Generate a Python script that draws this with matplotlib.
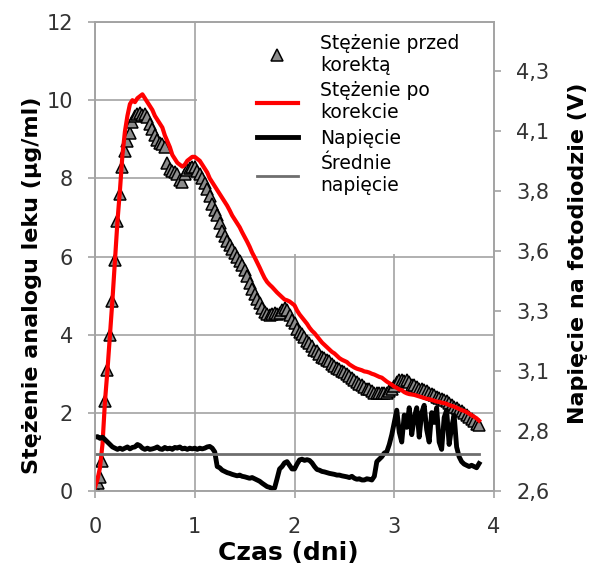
import numpy as np
import matplotlib
matplotlib.use("Agg")
import matplotlib.pyplot as plt
from matplotlib.patches import Rectangle

# odstęp między kolejnymi pomiarami (dni)
krok = 0.025

# stężenie analogu leku przed korektą (µg/ml)
stezenie_przed = [
    0.08, 0.20, 0.35, 0.78, 2.30, 3.10, 4.00, 4.85, 5.90, 6.90,
    7.60, 8.30, 8.70, 8.95, 9.15, 9.45, 9.60, 9.65, 9.68, 9.62,
    9.65, 9.58, 9.40, 9.25, 9.10, 8.98, 8.90, 8.88, 8.80, 8.40,
    8.25, 8.20, 8.15, 8.12, 7.95, 7.90, 8.12, 8.22, 8.26, 8.30,
    8.28, 8.20, 8.10, 8.00, 7.88, 7.72, 7.55, 7.35, 7.20, 7.05,
    6.85, 6.65, 6.52, 6.40, 6.30, 6.20, 6.10, 6.00, 5.88, 5.78,
    5.65, 5.50, 5.32, 5.18, 5.05, 4.92, 4.80, 4.68, 4.58, 4.52,
    4.50, 4.52, 4.55, 4.52, 4.55, 4.62, 4.68, 4.62, 4.50, 4.38,
    4.30, 4.15, 4.08, 4.02, 3.95, 3.85, 3.78, 3.70, 3.62, 3.58,
    3.50, 3.44, 3.40, 3.36, 3.32, 3.25, 3.20, 3.15, 3.12, 3.08,
    3.05, 3.00, 2.95, 2.90, 2.85, 2.80, 2.75, 2.70, 2.65, 2.62,
    2.60, 2.55, 2.52, 2.50, 2.52, 2.50, 2.50, 2.52, 2.55, 2.60,
    2.68, 2.80, 2.85, 2.83, 2.82, 2.85, 2.80, 2.72, 2.70, 2.65,
    2.62, 2.60, 2.58, 2.55, 2.50, 2.48, 2.45, 2.40, 2.38, 2.35,
    2.32, 2.30, 2.25, 2.20, 2.15, 2.12, 2.08, 2.05, 2.00, 1.95,
    1.90, 1.85, 1.78, 1.72, 1.68,
]

# stężenie po korekcie (µg/ml)
stezenie_po = [
    0.10, 0.30, 0.60, 1.20, 2.30, 3.10, 4.00, 4.90, 5.90, 6.90,
    7.70, 8.60, 9.20, 9.60, 9.90, 10.00, 9.95, 10.05, 10.10, 10.15,
    10.05, 9.95, 9.85, 9.75, 9.60, 9.50, 9.40, 9.30, 9.10, 8.95,
    8.80, 8.60, 8.50, 8.40, 8.35, 8.30, 8.35, 8.45, 8.50, 8.55,
    8.55, 8.50, 8.45, 8.35, 8.25, 8.15, 8.00, 7.90, 7.80, 7.70,
    7.60, 7.50, 7.40, 7.30, 7.18, 7.05, 6.95, 6.85, 6.75, 6.62,
    6.50, 6.38, 6.25, 6.10, 5.98, 5.85, 5.72, 5.58, 5.45, 5.35,
    5.28, 5.22, 5.15, 5.08, 5.02, 4.96, 4.90, 4.88, 4.85, 4.80,
    4.75, 4.62, 4.52, 4.44, 4.36, 4.28, 4.18, 4.10, 4.04, 3.96,
    3.88, 3.80, 3.74, 3.68, 3.62, 3.56, 3.52, 3.46, 3.40, 3.36,
    3.33, 3.30, 3.24, 3.20, 3.16, 3.13, 3.11, 3.09, 3.06, 3.05,
    3.03, 3.00, 2.98, 2.95, 2.92, 2.90, 2.85, 2.80, 2.76, 2.72,
    2.67, 2.64, 2.60, 2.58, 2.53, 2.50, 2.48, 2.47, 2.46, 2.44,
    2.42, 2.40, 2.38, 2.36, 2.35, 2.33, 2.31, 2.29, 2.28, 2.26,
    2.25, 2.23, 2.20, 2.18, 2.16, 2.13, 2.10, 2.07, 2.05, 2.02,
    1.98, 1.94, 1.90, 1.86, 1.80,
]

# napięcie na fotodiodzie (V)
napiecie = [
    2.820, 2.822, 2.815, 2.820, 2.810, 2.800, 2.790, 2.780, 2.775, 2.770,
    2.775, 2.770, 2.775, 2.780, 2.772, 2.778, 2.780, 2.790, 2.785, 2.775,
    2.770, 2.775, 2.770, 2.772, 2.775, 2.780, 2.772, 2.770, 2.778, 2.772,
    2.775, 2.770, 2.778, 2.775, 2.780, 2.772, 2.775, 2.770, 2.775, 2.772,
    2.775, 2.770, 2.775, 2.772, 2.775, 2.780, 2.782, 2.775, 2.760, 2.700,
    2.695, 2.685, 2.680, 2.675, 2.672, 2.668, 2.665, 2.662, 2.665, 2.660,
    2.658, 2.655, 2.652, 2.655, 2.650, 2.645, 2.640, 2.632, 2.625, 2.618,
    2.615, 2.610, 2.612, 2.650, 2.690, 2.700, 2.715, 2.720, 2.705, 2.690,
    2.690, 2.710, 2.727, 2.730, 2.725, 2.728, 2.725, 2.715, 2.700, 2.688,
    2.685, 2.680, 2.678, 2.675, 2.672, 2.670, 2.668, 2.665, 2.665, 2.662,
    2.660, 2.658, 2.655, 2.660, 2.652, 2.648, 2.650, 2.645, 2.645, 2.650,
    2.648, 2.645, 2.660, 2.720, 2.730, 2.740, 2.755, 2.760, 2.790, 2.830,
    2.880, 2.930, 2.840, 2.800, 2.910, 2.860, 2.940, 2.830, 2.900, 2.940,
    2.820, 2.920, 2.950, 2.850, 2.800, 2.920, 2.880, 2.940, 2.800, 2.770,
    2.900, 2.930, 2.790, 2.860, 2.910, 2.780, 2.740, 2.720, 2.710, 2.705,
    2.700, 2.705, 2.700, 2.695, 2.712,
]

srednie_napiecie = 2.75

czas_ticks = [0, 1, 2, 3, 4]
stezenie_ticks = [0, 2, 4, 6, 8, 10, 12]
napiecie_ticks = [2.6, 2.845, 3.09, 3.335, 3.58, 3.825, 4.07, 4.315]
napiecie_labels = ['2,6', '2,8', '3,1', '3,3', '3,6', '3,8', '4,1', '4,3']

czas = np.arange(len(stezenie_przed)) * krok

szary = '#a3a3a3'

fig = plt.figure(figsize=(5.92, 5.78), dpi=100)
ax = fig.add_axes([0.1605, 0.1505, 0.674, 0.8114])
ax2 = ax.twinx()

# lewa oś - stężenie
ax.set_axisbelow(True)
ax.grid(True, color=szary, lw=1.2)
# pod legendą nie ma siatki
ax.add_patch(Rectangle((1.02, 6.06), 2.98, 5.94, facecolor='white',
                       edgecolor='none', zorder=0.8))

h1, = ax.plot(czas, stezenie_przed, ls='none', marker='^', ms=9,
              mfc='#8c8c8c', mec='black', mew=1.1, zorder=2,
              label='Stężenie przed\nkorektą')
h2, = ax.plot(czas, stezenie_po, color='#ff0000', lw=3, zorder=3,
              label='Stężenie po\nkorekcie')

ax.set_xlim(0, 4)
ax.set_ylim(0, 12)
ax.set_xticks(czas_ticks)
ax.set_yticks(stezenie_ticks)

# prawa oś - napięcie
h3, = ax2.plot(czas, napiecie, color='black', lw=3.5, label='Napięcie')
h4, = ax2.plot(czas, np.full(len(czas), srednie_napiecie), color='#6e6e6e',
               lw=2, label='Średnie\nnapięcie')
ax2.set_ylim(2.6, 4.515)
ax2.set_yticks(napiecie_ticks)
ax2.set_yticklabels(napiecie_labels)

for a in (ax, ax2):
    for s in a.spines.values():
        s.set_color(szary)
        s.set_linewidth(1.2)
    a.tick_params(direction='out', length=5, width=1.2, color=szary,
                  labelsize=15, labelcolor='#333333', pad=11)
ax.tick_params(axis='x', pad=14)

ax.set_xlabel('Czas (dni)', fontsize=18, fontweight='bold', va='center')
ax.xaxis.set_label_coords(0.484, -0.132)
ax.set_ylabel('Stężenie analogu leku (µg/ml)', fontsize=16, fontweight='bold',
              va='center', ha='center')
ax.yaxis.set_label_coords(-0.158, 0.439)
ax2.set_ylabel('Napięcie na fotodiodzie (V)', fontsize=16, fontweight='bold',
               va='center', ha='center', rotation=90)
ax2.yaxis.set_label_coords(1.21, 0.507)

ax2.legend(handles=[h1, h2, h3, h4], loc='upper left',
           bbox_to_anchor=(0.405, 0.975), frameon=False, fontsize=13.5,
           handlelength=2.2, handletextpad=1.2, labelspacing=0.35,
           borderaxespad=0, borderpad=0)

fig.savefig('out.png', dpi=100)
